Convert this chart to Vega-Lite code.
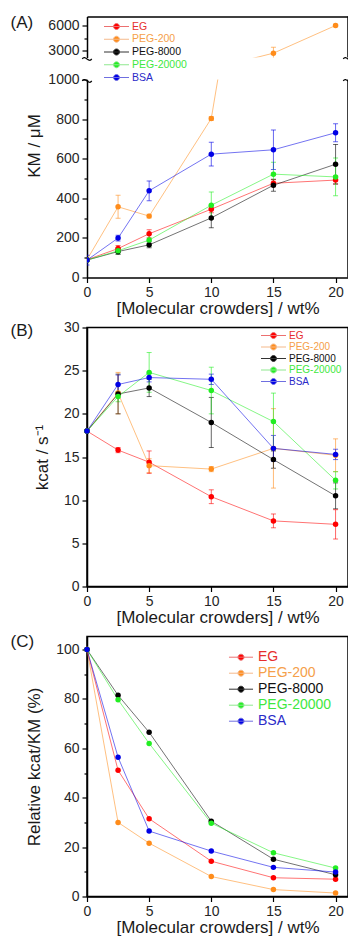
{
  "$schema": "https://vega.github.io/schema/vega-lite/v6.json",
  "background": "white",
  "padding": {"left": 9, "top": 13.5, "right": 0, "bottom": 0},
  "config": {
    "font": "Liberation Sans",
    "view": {"stroke": "#000000", "strokeWidth": 1.5},
    "axis": {"domainColor": "#000000", "domainWidth": 1.5, "tickColor": "#000000", "tickWidth": 1.2, "tickSize": 5, "labelFontSize": 14, "labelColor": "#262626", "labelPadding": 3, "titleFontSize": 17, "titleFontWeight": "normal", "titleColor": "#1a1a1a", "grid": false, "labelOverlap": false, "labelFlush": false},
    "legend": {"orient": "none", "symbolStrokeWidth": 1, "labelFont": "Liberation Sans", "padding": 0}
  },
  "datasets": {
    "km": [
      {"crowder": "EG", "wt": 0, "value": 90, "err": 0},
      {"crowder": "EG", "wt": 2.5, "value": 146, "err": 15},
      {"crowder": "EG", "wt": 5, "value": 221, "err": 20},
      {"crowder": "EG", "wt": 10, "value": 345, "err": 18},
      {"crowder": "EG", "wt": 15, "value": 476, "err": 18},
      {"crowder": "EG", "wt": 20, "value": 492, "err": 20},
      {"crowder": "PEG-200", "wt": 0, "value": 90, "err": 0},
      {"crowder": "PEG-200", "wt": 2.5, "value": 357, "err": 58},
      {"crowder": "PEG-200", "wt": 5, "value": 310, "err": 10},
      {"crowder": "PEG-200", "wt": 10, "value": 803, "err": 10},
      {"crowder": "PEG-200", "wt": 15, "value": 2680, "err": 700},
      {"crowder": "PEG-200", "wt": 20, "value": 6000, "err": 150},
      {"crowder": "PEG-8000", "wt": 0, "value": 88, "err": 0},
      {"crowder": "PEG-8000", "wt": 2.5, "value": 131, "err": 15},
      {"crowder": "PEG-8000", "wt": 5, "value": 165, "err": 15},
      {"crowder": "PEG-8000", "wt": 10, "value": 301, "err": 50},
      {"crowder": "PEG-8000", "wt": 15, "value": 466, "err": 30},
      {"crowder": "PEG-8000", "wt": 20, "value": 572, "err": 100},
      {"crowder": "PEG-20000", "wt": 0, "value": 88, "err": 0},
      {"crowder": "PEG-20000", "wt": 2.5, "value": 135, "err": 15},
      {"crowder": "PEG-20000", "wt": 5, "value": 189, "err": 30},
      {"crowder": "PEG-20000", "wt": 10, "value": 365, "err": 67},
      {"crowder": "PEG-20000", "wt": 15, "value": 522, "err": 60},
      {"crowder": "PEG-20000", "wt": 20, "value": 508, "err": 95},
      {"crowder": "BSA", "wt": 0, "value": 88, "err": 25},
      {"crowder": "BSA", "wt": 2.5, "value": 199, "err": 15},
      {"crowder": "BSA", "wt": 5, "value": 438, "err": 50},
      {"crowder": "BSA", "wt": 10, "value": 623, "err": 60},
      {"crowder": "BSA", "wt": 15, "value": 645, "err": 100},
      {"crowder": "BSA", "wt": 20, "value": 731, "err": 45}
    ],
    "kcat": [
      {"crowder": "EG", "wt": 0, "value": 18, "err": 0},
      {"crowder": "EG", "wt": 2.5, "value": 15.8, "err": 0.3},
      {"crowder": "EG", "wt": 5, "value": 14.4, "err": 1.3},
      {"crowder": "EG", "wt": 10, "value": 10.4, "err": 0.8},
      {"crowder": "EG", "wt": 15, "value": 7.6, "err": 0.8},
      {"crowder": "EG", "wt": 20, "value": 7.2, "err": 1.7},
      {"crowder": "PEG-200", "wt": 0, "value": 18, "err": 0},
      {"crowder": "PEG-200", "wt": 2.5, "value": 22.4, "err": 2.4},
      {"crowder": "PEG-200", "wt": 5, "value": 14.0, "err": 0.8},
      {"crowder": "PEG-200", "wt": 10, "value": 13.6, "err": 0.3},
      {"crowder": "PEG-200", "wt": 15, "value": 16.0, "err": 4.6},
      {"crowder": "PEG-200", "wt": 20, "value": 15.2, "err": 1.9},
      {"crowder": "PEG-8000", "wt": 0, "value": 18, "err": 0},
      {"crowder": "PEG-8000", "wt": 2.5, "value": 22.3, "err": 2.3},
      {"crowder": "PEG-8000", "wt": 5, "value": 23.0, "err": 1.0},
      {"crowder": "PEG-8000", "wt": 10, "value": 19.0, "err": 2.9},
      {"crowder": "PEG-8000", "wt": 15, "value": 14.7, "err": 1.0},
      {"crowder": "PEG-8000", "wt": 20, "value": 10.5, "err": 1.5},
      {"crowder": "PEG-20000", "wt": 0, "value": 18, "err": 0},
      {"crowder": "PEG-20000", "wt": 2.5, "value": 22.0, "err": 0.6},
      {"crowder": "PEG-20000", "wt": 5, "value": 24.8, "err": 2.3},
      {"crowder": "PEG-20000", "wt": 10, "value": 22.7, "err": 2.7},
      {"crowder": "PEG-20000", "wt": 15, "value": 19.1, "err": 3.3},
      {"crowder": "PEG-20000", "wt": 20, "value": 12.3, "err": 1.0},
      {"crowder": "BSA", "wt": 0, "value": 18, "err": 0},
      {"crowder": "BSA", "wt": 2.5, "value": 23.4, "err": 1.1},
      {"crowder": "BSA", "wt": 5, "value": 24.2, "err": 0.5},
      {"crowder": "BSA", "wt": 10, "value": 24.0, "err": 0.6},
      {"crowder": "BSA", "wt": 15, "value": 16.0, "err": 1.5},
      {"crowder": "BSA", "wt": 20, "value": 15.3, "err": 0.6}
    ],
    "rel": [
      {"crowder": "EG", "wt": 0, "value": 100},
      {"crowder": "EG", "wt": 2.5, "value": 51.1},
      {"crowder": "EG", "wt": 5, "value": 31.5},
      {"crowder": "EG", "wt": 10, "value": 14.3},
      {"crowder": "EG", "wt": 15, "value": 7.6},
      {"crowder": "EG", "wt": 20, "value": 7.0},
      {"crowder": "PEG-200", "wt": 0, "value": 100},
      {"crowder": "PEG-200", "wt": 2.5, "value": 30.0},
      {"crowder": "PEG-200", "wt": 5, "value": 21.6},
      {"crowder": "PEG-200", "wt": 10, "value": 8.1},
      {"crowder": "PEG-200", "wt": 15, "value": 2.8},
      {"crowder": "PEG-200", "wt": 20, "value": 1.4},
      {"crowder": "PEG-8000", "wt": 0, "value": 100},
      {"crowder": "PEG-8000", "wt": 2.5, "value": 81.5},
      {"crowder": "PEG-8000", "wt": 5, "value": 66.5},
      {"crowder": "PEG-8000", "wt": 10, "value": 30.5},
      {"crowder": "PEG-8000", "wt": 15, "value": 15.1},
      {"crowder": "PEG-8000", "wt": 20, "value": 8.8},
      {"crowder": "PEG-20000", "wt": 0, "value": 100},
      {"crowder": "PEG-20000", "wt": 2.5, "value": 79.7},
      {"crowder": "PEG-20000", "wt": 5, "value": 62.0},
      {"crowder": "PEG-20000", "wt": 10, "value": 29.7},
      {"crowder": "PEG-20000", "wt": 15, "value": 17.7},
      {"crowder": "PEG-20000", "wt": 20, "value": 11.5},
      {"crowder": "BSA", "wt": 0, "value": 100},
      {"crowder": "BSA", "wt": 2.5, "value": 56.4},
      {"crowder": "BSA", "wt": 5, "value": 26.5},
      {"crowder": "BSA", "wt": 10, "value": 18.4},
      {"crowder": "BSA", "wt": 15, "value": 11.8},
      {"crowder": "BSA", "wt": 20, "value": 9.9}
    ]
  },
  "spacing": 3,
  "resolve": {"scale": {"color": "independent", "x": "independent", "y": "independent"}, "legend": {"color": "independent"}},
  "vconcat": [
    {
      "bounds": "flush",
      "spacing": 22,
      "resolve": {"scale": {"color": "independent", "x": "independent", "y": "independent"}, "legend": {"color": "independent"}},
      "vconcat": [
        {
          "width": 261,
          "height": 41,
          "view": {"stroke": null},
          "resolve": {"axis": {"x": "independent", "y": "independent"}, "legend": {"color": "independent"}},
          "layer": [
            {
              "data": {"name": "km"},
              "mark": {"type": "line", "clip": true, "strokeWidth": 1, "opacity": 0.55},
              "encoding": {
                "x": {"field": "wt", "type": "quantitative", "scale": {"domain": [0, 21], "nice": false}, "axis": {"orient": "top", "labels": false, "ticks": false, "title": null}},
                "y": {"field": "value", "type": "quantitative", "scale": {"domain": [2160, 7080], "nice": false, "zero": false}, "axis": {"orient": "left", "values": [3000, 6000], "format": "d", "title": null}},
                "color": {"field": "crowder", "type": "nominal", "scale": {"domain": ["EG", "PEG-200", "PEG-8000", "PEG-20000", "BSA"], "range": ["#ff0000", "#ff8c1a", "#000000", "#22ee22", "#0000e6"]}, "legend": null}
              }
            },
            {
              "data": {"name": "km"},
              "mark": {"type": "errorbar", "clip": true, "ticks": true, "opacity": 0.6},
              "encoding": {
                "x": {"field": "wt", "type": "quantitative", "scale": {"domain": [0, 21], "nice": false}, "axis": null},
                "y": {"field": "value", "type": "quantitative", "scale": {"domain": [2160, 7080], "nice": false, "zero": false}, "axis": null},
                "yError": {"field": "err"},
                "color": {"field": "crowder", "type": "nominal", "scale": {"domain": ["EG", "PEG-200", "PEG-8000", "PEG-20000", "BSA"], "range": ["#ff0000", "#ff8c1a", "#000000", "#22ee22", "#0000e6"]}, "legend": null}
              }
            },
            {
              "data": {"name": "km"},
              "mark": {"type": "point", "filled": true, "size": 30, "opacity": 1, "clip": true},
              "encoding": {
                "x": {"field": "wt", "type": "quantitative", "scale": {"domain": [0, 21], "nice": false}, "axis": null},
                "y": {"field": "value", "type": "quantitative", "scale": {"domain": [2160, 7080], "nice": false, "zero": false}, "axis": null},
                "color": {"field": "crowder", "type": "nominal", "sort": ["EG", "PEG-200", "PEG-8000", "PEG-20000", "BSA"], "scale": {"domain": ["EG", "PEG-200", "PEG-8000", "PEG-20000", "BSA"], "range": ["#ff0000", "#ff8c1a", "#000000", "#22ee22", "#0000e6"]},
                  "legend": {"title": null, "legendX": 24, "legendY": 4.5, "symbolSize": 100, "symbolType": "M-2.5,0L2.5,0M-0.6,0A0.6,0.6,0,1,1,0.6,0A0.6,0.6,0,1,1,-0.6,0Z", "labelFontSize": 10.5, "labelOffset": 10, "rowPadding": 1.75,
                    "labelColor": {"expr": "datum.label === 'EG' ? '#e62e2e' : datum.label === 'PEG-200' ? '#f5a04a' : datum.label === 'PEG-20000' ? '#3ee83e' : datum.label === 'BSA' ? '#2a2ac8' : '#111111'"},
                    "symbolStrokeColor": {"expr": "datum.value === 'EG' ? '#ec7070' : datum.value === 'PEG-200' ? '#f5b98a' : datum.value === 'PEG-20000' ? '#8fe88f' : datum.value === 'BSA' ? '#6f6fe0' : '#333333'"}}}
              }
            },
            {
              "data": {"name": "km"},
              "mark": {"type": "point", "opacity": 0, "clip": true},
              "encoding": {
                "x": {"field": "wt", "type": "quantitative", "scale": {"domain": [0, 21], "nice": false}, "axis": null},
                "y": {"field": "value", "type": "quantitative", "scale": {"domain": [2160, 7080], "nice": false, "zero": false}, "axis": {"orient": "left", "values": [4500], "labels": false, "tickSize": 3, "domain": false, "title": "(A)", "titleAngle": 0, "titleAlign": "left", "titleBaseline": "middle", "titleX": -77, "titleY": 6}}
              }
            },
            {
              "data": {"values": [{}]},
              "mark": {"type": "rule", "color": "#000000", "strokeWidth": 1.5},
              "encoding": {
                "x": {"datum": 21, "type": "quantitative", "scale": {"domain": [0, 21], "nice": false}, "axis": null}
              }
            },
            {
              "data": {"values": [{}]},
              "mark": {"type": "point", "shape": "M-1,0.3C-0.4,-0.7,0.4,1.3,1,0.3", "size": 90, "filled": false, "color": "#000000", "strokeWidth": 1.2, "opacity": 1},
              "encoding": {
                "x": {"datum": 0, "type": "quantitative", "scale": {"domain": [0, 21], "nice": false}, "axis": null},
                "y": {"datum": 2160, "type": "quantitative", "scale": {"domain": [2160, 7080], "nice": false, "zero": false}, "axis": null}
              }
            },
            {
              "data": {"values": [{}]},
              "mark": {"type": "point", "shape": "M-1,0.3C-0.4,-0.7,0.4,1.3,1,0.3", "size": 90, "filled": false, "color": "#000000", "strokeWidth": 1.2, "opacity": 1},
              "encoding": {
                "x": {"datum": 21, "type": "quantitative", "scale": {"domain": [0, 21], "nice": false}, "axis": null},
                "y": {"datum": 2160, "type": "quantitative", "scale": {"domain": [2160, 7080], "nice": false, "zero": false}, "axis": null}
              }
            }
          ]
        },
        {
          "width": 261,
          "height": 198,
          "view": {"stroke": null},
          "resolve": {"axis": {"x": "independent", "y": "independent"}, "legend": {"color": "independent"}},
          "layer": [
            {
              "data": {"name": "km"},
              "mark": {"type": "line", "clip": true, "strokeWidth": 1, "opacity": 0.55},
              "encoding": {
                "x": {"field": "wt", "type": "quantitative", "scale": {"domain": [0, 21], "nice": false}, "axis": {"orient": "bottom", "values": [0, 5, 10, 15, 20], "title": "[Molecular crowders] / wt%", "titlePadding": 1}},
                "y": {"field": "value", "type": "quantitative", "scale": {"domain": [0, 1000], "nice": false}, "axis": {"orient": "left", "values": [0, 200, 400, 600, 800, 1000], "format": "d", "title": "KM / μM", "titlePadding": 4, "titleY": 66}},
                "color": {"field": "crowder", "type": "nominal", "scale": {"domain": ["EG", "PEG-200", "PEG-8000", "PEG-20000", "BSA"], "range": ["#ff0000", "#ff8c1a", "#000000", "#22ee22", "#0000e6"]}, "legend": null}
              }
            },
            {
              "data": {"name": "km"},
              "mark": {"type": "errorbar", "clip": true, "ticks": true, "opacity": 0.6},
              "encoding": {
                "x": {"field": "wt", "type": "quantitative", "scale": {"domain": [0, 21], "nice": false}, "axis": null},
                "y": {"field": "value", "type": "quantitative", "scale": {"domain": [0, 1000], "nice": false}, "axis": null},
                "yError": {"field": "err"},
                "color": {"field": "crowder", "type": "nominal", "scale": {"domain": ["EG", "PEG-200", "PEG-8000", "PEG-20000", "BSA"], "range": ["#ff0000", "#ff8c1a", "#000000", "#22ee22", "#0000e6"]}, "legend": null}
              }
            },
            {
              "data": {"name": "km"},
              "mark": {"type": "point", "filled": true, "size": 30, "opacity": 1, "clip": true},
              "encoding": {
                "x": {"field": "wt", "type": "quantitative", "scale": {"domain": [0, 21], "nice": false}, "axis": null},
                "y": {"field": "value", "type": "quantitative", "scale": {"domain": [0, 1000], "nice": false}, "axis": null},
                "color": {"field": "crowder", "type": "nominal", "scale": {"domain": ["EG", "PEG-200", "PEG-8000", "PEG-20000", "BSA"], "range": ["#ff0000", "#ff8c1a", "#000000", "#22ee22", "#0000e6"]}, "legend": null}
              }
            },
            {
              "data": {"name": "km"},
              "mark": {"type": "point", "opacity": 0, "clip": true},
              "encoding": {
                "x": {"field": "wt", "type": "quantitative", "scale": {"domain": [0, 21], "nice": false}, "axis": null},
                "y": {"field": "value", "type": "quantitative", "scale": {"domain": [0, 1000], "nice": false}, "axis": {"orient": "left", "values": [100, 300, 500, 700, 900], "labels": false, "tickSize": 3, "domain": false, "title": null}}
              }
            },
            {
              "data": {"values": [{}]},
              "mark": {"type": "rule", "color": "#000000", "strokeWidth": 1.5},
              "encoding": {
                "x": {"datum": 21, "type": "quantitative", "scale": {"domain": [0, 21], "nice": false}, "axis": null}
              }
            },
            {
              "data": {"values": [{}]},
              "mark": {"type": "point", "shape": "M-1,0.3C-0.4,-0.7,0.4,1.3,1,0.3", "size": 90, "filled": false, "color": "#000000", "strokeWidth": 1.2, "opacity": 1},
              "encoding": {
                "x": {"datum": 0, "type": "quantitative", "scale": {"domain": [0, 21], "nice": false}, "axis": null},
                "y": {"datum": 1000, "type": "quantitative", "scale": {"domain": [0, 1000], "nice": false}, "axis": null}
              }
            },
            {
              "data": {"values": [{}]},
              "mark": {"type": "point", "shape": "M-1,0.3C-0.4,-0.7,0.4,1.3,1,0.3", "size": 90, "filled": false, "color": "#000000", "strokeWidth": 1.2, "opacity": 1},
              "encoding": {
                "x": {"datum": 21, "type": "quantitative", "scale": {"domain": [0, 21], "nice": false}, "axis": null},
                "y": {"datum": 1000, "type": "quantitative", "scale": {"domain": [0, 1000], "nice": false}, "axis": null}
              }
            }
          ]
        }
      ]
    },
    {
      "bounds": "flush",
      "spacing": 50,
      "resolve": {"scale": {"color": "independent", "x": "independent", "y": "independent"}, "legend": {"color": "independent"}},
      "vconcat": [
        {
          "width": 261,
          "height": 259,
          "resolve": {"axis": {"x": "independent", "y": "independent"}, "legend": {"color": "independent"}},
          "layer": [
            {
              "data": {"name": "kcat"},
              "mark": {"type": "line", "strokeWidth": 1, "opacity": 0.55},
              "encoding": {
                "x": {"field": "wt", "type": "quantitative", "scale": {"domain": [0, 21], "nice": false}, "axis": {"orient": "bottom", "values": [0, 5, 10, 15, 20], "title": "[Molecular crowders] / wt%", "titlePadding": 1}},
                "y": {"field": "value", "type": "quantitative", "scale": {"domain": [0, 30], "nice": false}, "axis": {"orient": "left", "values": [0, 5, 10, 15, 20, 25, 30], "title": "kcat / s⁻¹", "titlePadding": 12}},
                "color": {"field": "crowder", "type": "nominal", "scale": {"domain": ["EG", "PEG-200", "PEG-8000", "PEG-20000", "BSA"], "range": ["#ff0000", "#ff8c1a", "#000000", "#22ee22", "#0000e6"]}, "legend": null}
              }
            },
            {
              "data": {"name": "kcat"},
              "mark": {"type": "errorbar", "ticks": true, "opacity": 0.6},
              "encoding": {
                "x": {"field": "wt", "type": "quantitative", "scale": {"domain": [0, 21], "nice": false}, "axis": null},
                "y": {"field": "value", "type": "quantitative", "scale": {"domain": [0, 30], "nice": false}, "axis": null},
                "yError": {"field": "err"},
                "color": {"field": "crowder", "type": "nominal", "scale": {"domain": ["EG", "PEG-200", "PEG-8000", "PEG-20000", "BSA"], "range": ["#ff0000", "#ff8c1a", "#000000", "#22ee22", "#0000e6"]}, "legend": null}
              }
            },
            {
              "data": {"name": "kcat"},
              "mark": {"type": "point", "filled": true, "size": 30, "opacity": 1},
              "encoding": {
                "x": {"field": "wt", "type": "quantitative", "scale": {"domain": [0, 21], "nice": false}, "axis": null},
                "y": {"field": "value", "type": "quantitative", "scale": {"domain": [0, 30], "nice": false}, "axis": null},
                "color": {"field": "crowder", "type": "nominal", "sort": ["EG", "PEG-200", "PEG-8000", "PEG-20000", "BSA"], "scale": {"domain": ["EG", "PEG-200", "PEG-8000", "PEG-20000", "BSA"], "range": ["#ff0000", "#ff8c1a", "#000000", "#22ee22", "#0000e6"]},
                  "legend": {"title": null, "legendX": 181, "legendY": 2.5, "symbolSize": 100, "symbolType": "M-2.5,0L2.5,0M-0.6,0A0.6,0.6,0,1,1,0.6,0A0.6,0.6,0,1,1,-0.6,0Z", "labelFontSize": 10, "labelOffset": 10, "rowPadding": 0.5,
                    "labelColor": {"expr": "datum.label === 'EG' ? '#e62e2e' : datum.label === 'PEG-200' ? '#f5a04a' : datum.label === 'PEG-20000' ? '#3ee83e' : datum.label === 'BSA' ? '#2a2ac8' : '#111111'"},
                    "symbolStrokeColor": {"expr": "datum.value === 'EG' ? '#ec7070' : datum.value === 'PEG-200' ? '#f5b98a' : datum.value === 'PEG-20000' ? '#8fe88f' : datum.value === 'BSA' ? '#6f6fe0' : '#333333'"}}}
              }
            },
            {
              "data": {"name": "kcat"},
              "mark": {"type": "point", "opacity": 0},
              "encoding": {
                "x": {"field": "wt", "type": "quantitative", "scale": {"domain": [0, 21], "nice": false}, "axis": null},
                "y": {"field": "value", "type": "quantitative", "scale": {"domain": [0, 30], "nice": false}, "axis": {"orient": "left", "values": [], "labels": false, "ticks": false, "domain": false, "title": "(B)", "titleAngle": 0, "titleAlign": "left", "titleBaseline": "middle", "titleX": -77, "titleY": 3}}
              }
            }
          ]
        },
        {
          "width": 261,
          "height": 260,
          "resolve": {"axis": {"x": "independent", "y": "independent"}, "legend": {"color": "independent"}},
          "layer": [
            {
              "data": {"name": "rel"},
              "mark": {"type": "line", "strokeWidth": 1, "opacity": 0.55},
              "encoding": {
                "x": {"field": "wt", "type": "quantitative", "scale": {"domain": [0, 21], "nice": false}, "axis": {"orient": "bottom", "values": [0, 5, 10, 15, 20], "title": "[Molecular crowders] / wt%", "titlePadding": 1}},
                "y": {"field": "value", "type": "quantitative", "scale": {"domain": [0, 105.3], "nice": false}, "axis": {"orient": "left", "values": [0, 20, 40, 60, 80, 100], "title": "Relative kcat/KM (%)", "titlePadding": 12}},
                "color": {"field": "crowder", "type": "nominal", "scale": {"domain": ["EG", "PEG-200", "PEG-8000", "PEG-20000", "BSA"], "range": ["#ff0000", "#ff8c1a", "#000000", "#22ee22", "#0000e6"]}, "legend": null}
              }
            },
            {
              "data": {"name": "rel"},
              "mark": {"type": "point", "filled": true, "size": 30, "opacity": 1},
              "encoding": {
                "x": {"field": "wt", "type": "quantitative", "scale": {"domain": [0, 21], "nice": false}, "axis": null},
                "y": {"field": "value", "type": "quantitative", "scale": {"domain": [0, 105.3], "nice": false}, "axis": null},
                "color": {"field": "crowder", "type": "nominal", "sort": ["EG", "PEG-200", "PEG-8000", "PEG-20000", "BSA"], "scale": {"domain": ["EG", "PEG-200", "PEG-8000", "PEG-20000", "BSA"], "range": ["#ff0000", "#ff8c1a", "#000000", "#22ee22", "#0000e6"]},
                  "legend": {"title": null, "legendX": 147, "legendY": 13.7, "symbolSize": 169, "symbolType": "M-1.85,0L1.85,0M-0.46,0A0.46,0.46,0,1,1,0.46,0A0.46,0.46,0,1,1,-0.46,0Z", "labelFontSize": 14, "labelOffset": 10, "rowPadding": 2,
                    "labelColor": {"expr": "datum.label === 'EG' ? '#e62e2e' : datum.label === 'PEG-200' ? '#f5a04a' : datum.label === 'PEG-20000' ? '#3ee83e' : datum.label === 'BSA' ? '#2a2ac8' : '#111111'"},
                    "symbolStrokeColor": {"expr": "datum.value === 'EG' ? '#ec7070' : datum.value === 'PEG-200' ? '#f5b98a' : datum.value === 'PEG-20000' ? '#8fe88f' : datum.value === 'BSA' ? '#6f6fe0' : '#333333'"}}}
              }
            },
            {
              "data": {"name": "rel"},
              "mark": {"type": "point", "opacity": 0},
              "encoding": {
                "x": {"field": "wt", "type": "quantitative", "scale": {"domain": [0, 21], "nice": false}, "axis": null},
                "y": {"field": "value", "type": "quantitative", "scale": {"domain": [0, 105.3], "nice": false}, "axis": {"orient": "left", "values": [10, 30, 50, 70, 90], "labels": false, "tickSize": 3, "domain": false, "title": "(C)", "titleAngle": 0, "titleAlign": "left", "titleBaseline": "middle", "titleX": -77, "titleY": 5}}
              }
            }
          ]
        }
      ]
    }
  ]
}
